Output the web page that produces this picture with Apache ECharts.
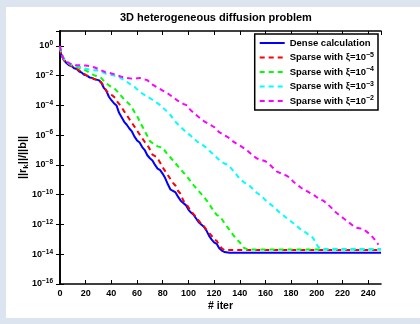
<!DOCTYPE html>
<html>
<head>
<meta charset="utf-8">
<script src="https://cdn.jsdelivr.net/npm/echarts@6/dist/echarts.min.js"></script>
<style>
  html, body { margin: 0; padding: 0; background: #dbe4ef; }
  #chart { width: 420px; height: 324px; }
</style>
</head>
<body>
<div id="chart"></div>
<script>
// residual history, [iteration, log10(||r_k||/||b||)]
const dense = [[0,-0.2],[1,-0.6],[3,-0.95],[5,-1.15],[7,-1.3],[9,-1.35],[11,-1.5],[13,-1.55],[15,-1.72],[17,-1.8],[19,-1.95],[21,-2.0],[23,-2.12],[25,-2.15],[27,-2.25],[30,-2.3],[32,-2.45],[34,-2.8],[36,-3.0],[38,-3.4],[40,-3.65],[42,-3.85],[44,-4.0],[46,-4.5],[48,-4.8],[50,-5.1],[52,-5.3],[54,-5.55],[56,-5.75],[58,-6.1],[60,-6.35],[62,-6.5],[64,-6.8],[66,-7.0],[68,-7.35],[70,-7.55],[72,-7.7],[74,-8.0],[76,-8.25],[78,-8.35],[80,-8.6],[82,-8.9],[84,-9.3],[86,-9.65],[88,-9.75],[90,-9.85],[92,-10.15],[94,-10.4],[96,-10.55],[98,-10.7],[100,-11.0],[102,-11.2],[104,-11.35],[106,-11.6],[108,-11.85],[110,-12.0],[112,-12.15],[114,-12.4],[116,-12.75],[118,-13.0],[120,-13.2],[122,-13.3],[124,-13.6],[126,-13.75],[128,-13.85],[132,-13.9],[250,-13.9]];
const sparse5 = [[0,-0.2],[1,-0.6],[3,-0.95],[5,-1.1],[8,-1.3],[11,-1.45],[14,-1.6],[17,-1.75],[20,-1.95],[23,-2.1],[26,-2.2],[30,-2.3],[33,-2.55],[36,-3.0],[38,-3.2],[41,-3.35],[43,-3.5],[45,-3.8],[47,-4.0],[50,-4.4],[52,-4.65],[55,-5.05],[57,-5.3],[59,-5.55],[62,-5.95],[64,-6.2],[66,-6.45],[69,-6.8],[72,-7.3],[75,-7.45],[77,-7.7],[79,-8.0],[81,-8.3],[83,-8.55],[86,-8.95],[88,-9.2],[90,-9.4],[92,-9.75],[94,-9.95],[96,-10.4],[98,-10.55],[100,-10.85],[102,-11.1],[104,-11.3],[106,-11.5],[108,-11.75],[110,-11.95],[112,-12.1],[114,-12.35],[116,-12.55],[118,-12.75],[120,-13.0],[122,-13.1],[124,-13.4],[126,-13.6],[128,-13.72],[250,-13.72]];
const sparse4 = [[0,-0.1],[1,-0.5],[3,-0.9],[5,-1.1],[8,-1.25],[11,-1.35],[14,-1.45],[17,-1.52],[20,-1.65],[23,-1.8],[26,-1.95],[29,-2.05],[32,-2.15],[35,-2.45],[38,-2.65],[41,-2.8],[43,-2.9],[46,-3.2],[49,-3.5],[52,-3.75],[55,-4.0],[58,-4.45],[60,-4.7],[63,-5.25],[65,-5.55],[68,-6.05],[70,-6.4],[73,-6.6],[76,-6.75],[80,-6.85],[83,-7.2],[86,-7.5],[89,-7.8],[93,-8.2],[96,-8.5],[100,-8.9],[104,-9.35],[107,-9.65],[110,-9.95],[113,-10.25],[116,-10.6],[119,-11.0],[122,-11.35],[125,-11.5],[128,-11.9],[131,-12.25],[134,-12.6],[137,-12.95],[140,-13.2],[143,-13.55],[146,-13.68],[250,-13.68]];
const sparse3 = [[0,-0.05],[1,-0.5],[3,-0.85],[6,-1.1],[9,-1.25],[12,-1.3],[15,-1.4],[18,-1.5],[21,-1.55],[25,-1.63],[30,-1.65],[35,-1.85],[40,-1.95],[45,-2.05],[48,-2.2],[52,-2.4],[55,-2.6],[58,-2.75],[61,-3.0],[64,-3.2],[68,-3.4],[72,-3.62],[75,-3.8],[78,-3.98],[82,-4.3],[86,-4.65],[89,-5.0],[91,-5.2],[94,-5.45],[97,-5.7],[101,-5.98],[104,-6.2],[107,-6.45],[111,-6.65],[114,-6.85],[117,-7.1],[122,-7.5],[125,-7.75],[128,-7.9],[131,-8.0],[134,-8.3],[137,-8.6],[140,-8.95],[143,-9.15],[147,-9.35],[150,-9.6],[153,-9.85],[157,-10.1],[161,-10.45],[164,-10.65],[167,-10.85],[171,-11.2],[174,-11.4],[177,-11.6],[180,-11.8],[183,-12.0],[187,-12.3],[190,-12.45],[193,-12.65],[197,-12.9],[199,-13.2],[201,-13.5],[204,-13.65],[250,-13.65]];
const sparse2 = [[0,0],[1,-0.5],[3,-0.9],[6,-1.1],[9,-1.25],[12,-1.3],[16,-1.3],[20,-1.32],[23,-1.35],[27,-1.45],[31,-1.6],[35,-1.75],[40,-1.85],[44,-1.95],[48,-2.08],[52,-2.15],[56,-2.2],[59,-2.2],[62,-2.15],[65,-2.25],[68,-2.3],[72,-2.6],[76,-2.8],[80,-3.0],[84,-3.2],[88,-3.45],[92,-3.7],[96,-3.9],[99,-4.0],[101,-4.25],[104,-4.5],[108,-4.78],[112,-5.05],[116,-5.25],[120,-5.45],[124,-5.8],[128,-6.0],[131,-6.15],[135,-6.44],[139,-6.65],[142,-6.8],[146,-7.05],[150,-7.35],[153,-7.55],[157,-7.67],[160,-7.75],[163,-7.95],[166,-8.2],[169,-8.45],[173,-8.6],[176,-8.7],[179,-8.85],[182,-9.15],[185,-9.35],[188,-9.55],[191,-9.7],[195,-9.9],[199,-10.1],[202,-10.3],[205,-10.4],[208,-10.6],[211,-10.85],[215,-11.2],[218,-11.4],[221,-11.6],[224,-11.8],[227,-12.0],[230,-12.2],[233,-12.25],[236,-12.3],[239,-12.5],[242,-12.7],[245,-13.0],[248,-13.35]];

const names = ['Dense calculation', 'Sparse with ξ=10^−5', 'Sparse with ξ=10^−4', 'Sparse with ξ=10^−3', 'Sparse with ξ=10^−2'];
const colors = ['#0000ff', '#ff0000', '#00ff00', '#00ffff', '#ff00ff'];
const curves = [dense, sparse5, sparse4, sparse3, sparse2];

const FONT = 'Liberation Sans, Arial, sans-serif';
const chart = echarts.init(document.getElementById('chart'));

const series = curves.map((c, i) => ({
  name: names[i],
  type: 'line',
  symbol: 'none',
  data: c.map((p) => [p[0], Math.pow(10, p[1])]),
  lineStyle: { color: colors[i], width: 2, type: i === 0 ? 'solid' : [5, 4] },
  itemStyle: { color: colors[i] },
  animation: false,
}));

const boxAxis = { show: true, lineStyle: { color: '#000', width: 1.6 } };
const inTick = { show: true, inside: true, length: 4, lineStyle: { color: '#000', width: 1 } };

chart.setOption({
  backgroundColor: '#dbe4ef',
  animation: false,
  graphic: [{ type: 'rect', shape: { x: 6, y: 7, width: 414, height: 311 }, style: { fill: '#fff' }, z: -10 }],
  title: {
    text: '3D heterogeneous diffusion problem',
    left: 120, top: 12, padding: 0,
    textStyle: { fontFamily: FONT, fontSize: 11, fontWeight: 'bold', color: '#000' },
  },
  legend: {
    orient: 'vertical', right: 42, top: 34,
    backgroundColor: '#fff', borderColor: '#000', borderWidth: 1.5, borderRadius: 0,
    padding: [3, 4, 3, 4], itemGap: 2.5, itemWidth: 25, itemHeight: 10,
    itemStyle: { opacity: 0 },
    formatter: (n) => n.replace(/\^(\S+)/, '{s|$1}'),
    textStyle: {
      fontFamily: FONT, fontSize: 9.5, fontWeight: 'bold', color: '#000', lineHeight: 12,
      rich: { s: { fontFamily: FONT, fontSize: 7, fontWeight: 'bold', color: '#000', verticalAlign: 'top', padding: [0, 0, 5, 0] } },
    },
  },
  grid: { left: 60, right: 39, top: 31, bottom: 40 },
  xAxis: [{
    type: 'value', min: 0, max: 250, interval: 20,
    name: '# iter', nameLocation: 'middle', nameGap: 17, nameMoveOverlap: false,
    nameTextStyle: { fontFamily: FONT, fontSize: 10.5, fontWeight: 'bold', color: '#000' },
    axisLine: boxAxis, axisTick: inTick, splitLine: { show: false },
    axisLabel: { showMaxLabel: false, margin: 5, fontFamily: FONT, fontSize: 9, fontWeight: 'bold', color: '#000' },
  }, {
    type: 'value', position: 'top', min: 0, max: 250, interval: 20,
    axisLine: boxAxis, axisTick: inTick, axisLabel: { show: false }, splitLine: { show: false },
  }],
  yAxis: [{
    type: 'log', logBase: 10, min: 1e-16, max: 10, interval: 2,
    name: '||r{k|k}||/||b||', nameLocation: 'middle', nameGap: 30, nameMoveOverlap: false,
    nameTextStyle: {
      fontFamily: FONT, fontSize: 11, fontWeight: 'bold', color: '#000', lineHeight: 14,
      rich: { k: { fontFamily: FONT, fontSize: 8, fontWeight: 'bold', color: '#000', verticalAlign: 'bottom', padding: [6, 0, 0, 0] } },
    },
    axisLine: boxAxis, axisTick: inTick, splitLine: { show: false }, minorTick: { show: false },
    axisLabel: {
      showMaxLabel: false, margin: 7,
      formatter: (v) => {
        const e = Math.round(Math.log10(v));
        return '{b|10}{s|' + (e < 0 ? '−' + (-e) : e) + '}';
      },
      rich: {
        b: { fontFamily: FONT, fontSize: 9, fontWeight: 'bold', color: '#000', lineHeight: 12 },
        s: { fontFamily: FONT, fontSize: 6.5, fontWeight: 'bold', color: '#000', verticalAlign: 'top', padding: [0, 0, 5, 0] },
      },
    },
  }, {
    type: 'log', logBase: 10, position: 'right', min: 1e-16, max: 10, interval: 2,
    axisLine: boxAxis, axisTick: inTick, axisLabel: { show: false }, splitLine: { show: false }, minorTick: { show: false },
  }],
  series,
});
</script>
</body>
</html>
